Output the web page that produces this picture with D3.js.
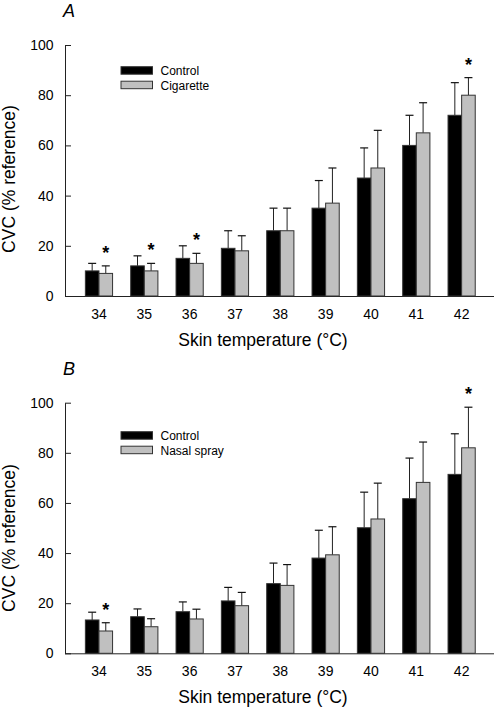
<!DOCTYPE html>
<html>
<head>
<meta charset="utf-8">
<script src="https://cdn.jsdelivr.net/npm/d3@7"></script>
<style>
  html, body { margin: 0; padding: 0; background: #fff; }
  svg { display: block; }
  text { font-family: "Liberation Sans", Arial, sans-serif; fill: #000; }
</style>
</head>
<body>
<script>
// ---- Data ----
const temps = [34, 35, 36, 37, 38, 39, 40, 41, 42];
const yTicks = [0, 20, 40, 60, 80, 100];

// Panel A
const controlA = [10, 12, 15, 19, 26, 35, 47, 60, 72];
const controlAErr = [3, 4, 5, 7, 9, 11, 12, 12, 13];
const cigaretteA = [9, 10, 13, 18, 26, 37, 51, 65, 80];
const cigaretteAErr = [3, 3, 4, 6, 9, 14, 15, 12, 7];
const sigA = [34, 35, 36, 42];

// Panel B
const controlB = [13.3, 14.6, 16.6, 20.9, 27.8, 38.0, 50.1, 61.7, 71.4];
const controlBErr = [3.1, 3.1, 3.9, 5.4, 8.2, 11.1, 14.2, 16.2, 16.2];
const nasalB = [8.9, 10.6, 13.7, 19.0, 27.1, 39.3, 53.6, 68.2, 82.0];
const nasalBErr = [3.3, 3.2, 3.9, 5.3, 8.3, 11.2, 14.3, 16.1, 16.2];
const sigB = [34, 42];

const xLabel = "Skin temperature (°C)";
const yLabel = "CVC (% reference)";

// ---- Drawing ----
const W = 496, H = 712;
const svg = d3.select("body").append("svg").attr("width", W).attr("height", H);

const x = d3.scaleBand().domain(temps).range([76.3, 484.3]).paddingInner(0.4).paddingOuter(0.2);
const x1 = d3.scaleBand().domain(["s1", "s2"]).range([0, x.bandwidth()]);

function drawPanel(cfg) {
  const y = d3.scaleLinear().domain([0, 100]).range([cfg.y0, cfg.y100]);
  const g = svg.append("g");
  const axisX = 65;

  // panel letter
  g.append("text").attr("x", 63).attr("y", cfg.letterY)
    .style("font-size", "18px").style("font-style", "italic").text(cfg.letter);

  // y axis
  const ya = g.append("g").attr("transform", `translate(${axisX},0)`)
    .call(d3.axisLeft(y).tickValues(yTicks).tickSizeInner(-6).tickSizeOuter(0).tickPadding(11.5));
  ya.select(".domain").attr("stroke", "#222");
  ya.selectAll(".tick line").attr("stroke", "#222");
  ya.selectAll(".tick text").style("font-size", "14px")
    .style("font-family", '"Liberation Sans", Arial, sans-serif').attr("fill", "#000");

  // x axis
  const xa = g.append("g").attr("transform", `translate(0,${cfg.y0})`)
    .call(d3.axisBottom(x).tickSize(0).tickPadding(0));
  xa.select(".domain").remove();
  xa.selectAll(".tick text").style("font-size", "14px")
    .style("font-family", '"Liberation Sans", Arial, sans-serif').attr("fill", "#000")
    .attr("dy", null).attr("y", 23);
  g.append("line").attr("x1", axisX).attr("x2", 494)
    .attr("y1", cfg.y0 + 0.5).attr("y2", cfg.y0 + 0.5).attr("stroke", "#222");

  const series = [
    { key: "s1", vals: cfg.c, errs: cfg.ce, fill: "#000" },
    { key: "s2", vals: cfg.t, errs: cfg.te, fill: "#c0c0c0" }
  ];

  series.forEach(s => {
    const bw = x1.bandwidth();
    // error bars
    temps.forEach((t, i) => {
      const cx = x(t) + x1(s.key) + bw / 2;
      const top = y(s.vals[i] + s.errs[i]);
      g.append("line").attr("x1", cx).attr("x2", cx)
        .attr("y1", y(s.vals[i])).attr("y2", top).attr("stroke", "#222").attr("stroke-width", 1);
      g.append("line").attr("x1", cx - 4).attr("x2", cx + 4)
        .attr("y1", top).attr("y2", top).attr("stroke", "#111").attr("stroke-width", 1.2);
    });
    g.selectAll(null).data(temps).enter().append("rect")
      .attr("x", t => x(t) + x1(s.key))
      .attr("width", bw)
      .attr("y", (t, i) => y(s.vals[i]))
      .attr("height", (t, i) => cfg.y0 - y(s.vals[i]))
      .attr("fill", s.fill).attr("stroke", "#333").attr("stroke-width", 1);
  });

  // significance stars
  cfg.sig.forEach(t => {
    const i = temps.indexOf(t);
    const cx = x(t) + x1("s2") + x1.bandwidth() / 2;
    g.append("text").attr("x", cx).attr("y", y(cfg.t[i] + cfg.te[i]) - 7)
      .attr("text-anchor", "middle").style("font-size", "18px").style("font-weight", "bold").text("*");
  });

  // legend
  const lg = g.append("g");
  [{ label: "Control", fill: "#000", dy: 0 }, { label: cfg.label2, fill: "#c0c0c0", dy: 14.5 }].forEach(d => {
    lg.append("rect").attr("x", 121).attr("y", cfg.legY + d.dy).attr("width", 31.5).attr("height", 7.5)
      .attr("fill", d.fill).attr("stroke", "#333").attr("stroke-width", 1);
    lg.append("text").attr("x", 160.5).attr("y", cfg.legY + d.dy + 8.5)
      .style("font-size", "12px").text(d.label);
  });

  // axis titles
  g.append("text").attr("x", 263).attr("y", cfg.y0 + 50).attr("text-anchor", "middle")
    .style("font-size", "17.5px").text(xLabel);
  g.append("text").attr("transform", `translate(15,${cfg.yTitleC}) rotate(-90)`)
    .attr("text-anchor", "middle").style("font-size", "17.5px").text(yLabel);
}

drawPanel({ letter: "A", letterY: 16.5, y0: 296, y100: 45, c: controlA, ce: controlAErr, t: cigaretteA, te: cigaretteAErr,
  sig: sigA, label2: "Cigarette", legY: 66.7, yTitleC: 179 });
drawPanel({ letter: "B", letterY: 375, y0: 653.3, y100: 402.7, c: controlB, ce: controlBErr, t: nasalB, te: nasalBErr,
  sig: sigB, label2: "Nasal spray", legY: 431.7, yTitleC: 538 });
</script>
</body>
</html>
